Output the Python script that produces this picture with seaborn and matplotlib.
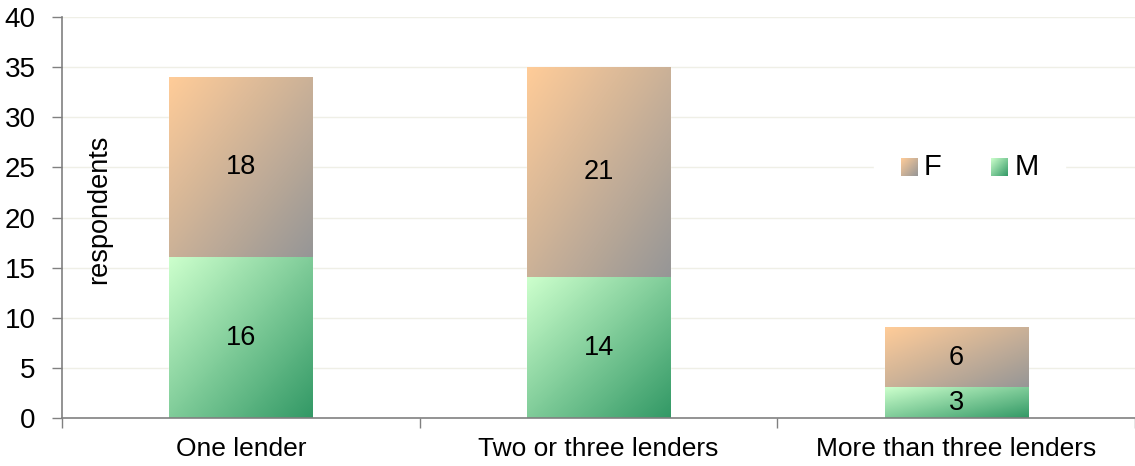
import numpy as np
import pandas as pd
import matplotlib
matplotlib.use("Agg")
import matplotlib.pyplot as plt
import seaborn as sns
from matplotlib.colors import LinearSegmentedColormap
from matplotlib.patches import Patch
from matplotlib.legend_handler import HandlerBase
from matplotlib.image import BboxImage
from matplotlib.transforms import Bbox, TransformedBbox

categories = ["One lender", "Two or three lenders", "More than three lenders"]
male = [16, 14, 3]
female = [18, 21, 6]
yticks = [0, 5, 10, 15, 20, 25, 30, 35, 40]

sns.set_theme(style="white")
plt.rcParams['font.family'] = ['Liberation Sans', 'DejaVu Sans']
plt.rcParams['text.color'] = 'black'
plt.rcParams['xtick.color'] = 'black'
plt.rcParams['ytick.color'] = 'black'

FS = 19.5

df = pd.DataFrame({"category": categories, "M": male, "F": female})
df["total"] = df["M"] + df["F"]

fig = plt.figure(figsize=(11.35, 4.66), dpi=100)
ax = fig.add_axes([62/1135, 1 - 418/466, 1 - 62/1135, 401/466])

sns.barplot(data=df, x="category", y="total", color="#ffcc99", width=0.4, ax=ax, saturation=1)
sns.barplot(data=df, x="category", y="M", color="#ccffcc", width=0.4, ax=ax, saturation=1)

cmap_f = LinearSegmentedColormap.from_list("f", ["#ffcc99", "#969696"])
cmap_m = LinearSegmentedColormap.from_list("m", ["#ccffcc", "#339966"])
n = 64
gx, gy = np.meshgrid(np.linspace(0, 1, n), np.linspace(0, 1, n))
grad = (gx + gy) / 2.0  # 0 at top-left, 1 at bottom-right

patches = list(ax.patches)
nb = len(categories)
tot_patches = patches[:nb]
for i in range(nb):
    pt = tot_patches[i]
    x0 = pt.get_x(); w = pt.get_width()
    ax.imshow(grad, cmap=cmap_f, extent=(x0, x0 + w, male[i], male[i] + female[i]),
              origin="upper", aspect="auto", zorder=2, interpolation="bilinear")
    ax.imshow(grad, cmap=cmap_m, extent=(x0, x0 + w, 0, male[i]),
              origin="upper", aspect="auto", zorder=2, interpolation="bilinear")
    cx = x0 + w / 2
    ax.text(cx, male[i] / 2, str(male[i]), ha="center", va="center", fontsize=FS, zorder=3)
    ax.text(cx, male[i] + female[i] / 2, str(female[i]), ha="center", va="center", fontsize=FS, zorder=3)

ax.set_xlim(-0.5, nb - 0.5)
ax.set_ylim(0, 40)
ax.set_yticks(yticks)
ax.set_yticklabels([str(t) for t in yticks], fontsize=FS + 0.5)
ax.set_xticks(range(nb))
ax.set_xticklabels(categories, fontsize=19)
ax.set_xticks([i - 0.5 for i in range(nb + 1)], minor=True)
ax.tick_params(axis="x", which="major", length=0, pad=14, bottom=False)
ax.tick_params(axis="x", which="minor", length=7, width=1, color="#808080", direction="out", bottom=True)
ax.tick_params(axis="y", which="major", length=7, width=1, color="#808080", direction="out", pad=12, left=True)
ax.set_xlabel("")
ax.set_ylabel("")
for y in yticks[1:]:
    ax.axhline(y, color="#efefe6", lw=1, zorder=0)
for s in ["top", "right"]:
    ax.spines[s].set_visible(False)
for s in ["left", "bottom"]:
    ax.spines[s].set_color("#808080")
    ax.spines[s].set_linewidth(1.2)

ax.text(0.035, 0.52, "respondents", transform=ax.transAxes, rotation=90,
        ha="center", va="center", fontsize=FS)


class GradHandler(HandlerBase):
    def __init__(self, cmap):
        super().__init__()
        self.cmap = cmap

    def create_artists(self, legend, orig_handle, xdescent, ydescent, width, height, fontsize, trans):
        bb = Bbox.from_bounds(xdescent, ydescent, width, height)
        tbb = TransformedBbox(bb, trans)
        img = BboxImage(tbb, cmap=self.cmap, interpolation="bilinear")
        img.set_data(grad)
        img.set_clim(0, 1)
        return [img]


h_f = Patch(facecolor="#e0b090", edgecolor="none", label="F")
h_m = Patch(facecolor="#88cc99", edgecolor="none", label="M")
leg = ax.legend(handles=[h_f, h_m], ncol=2, loc="center", bbox_to_anchor=(0.846, 0.627),
                frameon=True, fontsize=21, handlelength=0.55, handleheight=0.55,
                columnspacing=1.7, handletextpad=0.25, framealpha=1, edgecolor="white",
                facecolor="white", borderpad=0.9,
                handler_map={h_f: GradHandler(cmap_f), h_m: GradHandler(cmap_m)})

fig.savefig("out.png", dpi=100)
